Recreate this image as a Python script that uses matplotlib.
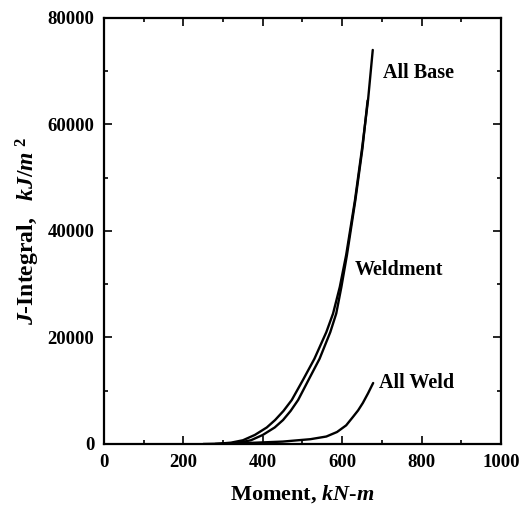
import numpy as np
import matplotlib
matplotlib.use("Agg")
import matplotlib.pyplot as plt
from matplotlib.ticker import MultipleLocator

plt.rcParams['font.family'] = ['Liberation Serif', 'DejaVu Serif']
plt.rcParams['font.weight'] = 'bold'
plt.rcParams['mathtext.fontset'] = 'custom'
plt.rcParams['mathtext.it'] = 'Liberation Serif:bold:italic'
plt.rcParams['mathtext.rm'] = 'Liberation Serif:bold'
plt.rcParams['mathtext.bf'] = 'Liberation Serif:bold'

# Data
base_x = [280, 320, 350, 380, 410, 431, 452, 473, 501, 530, 560, 577, 594,
          610, 632, 650, 665, 677]
base_y = [0, 250, 700, 1700, 3100, 4500, 6200, 8260, 12000, 16000, 21000,
          24500, 29500, 35500, 45700, 55500, 64500, 74000]
weldment_x = [295, 340, 370, 400, 430, 451, 470, 489, 515, 543, 570, 585,
              598, 612, 633, 651, 664]
weldment_y = [0, 250, 700, 1700, 3100, 4500, 6200, 8260, 12000, 16000, 21000,
              24500, 29500, 35500, 45700, 55500, 64500]
weld_x = [250, 350, 450, 520, 560, 587, 610, 627, 640, 652, 665, 678]
weld_y = [0, 150, 450, 900, 1400, 2250, 3500, 5070, 6300, 7700, 9500, 11450]

labels = ["All Base", "Weldment", "All Weld"]

fig = plt.figure(figsize=(5.32, 5.07), dpi=100)
ax = fig.add_axes([0.1955, 0.1243, 0.7462, 0.8402])

kw = dict(color='black', lw=1.7, solid_joinstyle='round', solid_capstyle='round')
ax.plot(base_x, base_y, **kw)
ax.plot(weldment_x, weldment_y, **kw)
ax.plot(weld_x, weld_y, **kw)

ax.text(703, 69700, labels[0], fontsize=14.5, fontweight='bold', va='center')
ax.text(632, 32700, labels[1], fontsize=14.5, fontweight='bold', va='center')
ax.text(693, 11450, labels[2], fontsize=14.5, fontweight='bold', va='center')

ax.set_xlim(0, 1000)
ax.set_ylim(0, 80000)
ax.xaxis.set_major_locator(MultipleLocator(200))
ax.xaxis.set_minor_locator(MultipleLocator(100))
ax.yaxis.set_major_locator(MultipleLocator(20000))
ax.yaxis.set_minor_locator(MultipleLocator(10000))
ax.tick_params(which='both', direction='in', top=True, right=True, width=1.2,
               labelsize=13.5, pad=7)
ax.tick_params(which='major', length=6)
ax.tick_params(which='minor', length=3)
for lab in ax.get_xticklabels() + ax.get_yticklabels():
    lab.set_fontweight('bold')
for s in ax.spines.values():
    s.set_linewidth(1.6)

ax.set_xlabel(r"Moment, $kN$-$m$", fontsize=16, fontweight='bold', labelpad=9)
ax.set_ylabel(r"$J$-Integral,   $kJ/m^{\ 2}$", fontsize=17, fontweight='bold', labelpad=4)

fig.savefig("out.png", dpi=100)
